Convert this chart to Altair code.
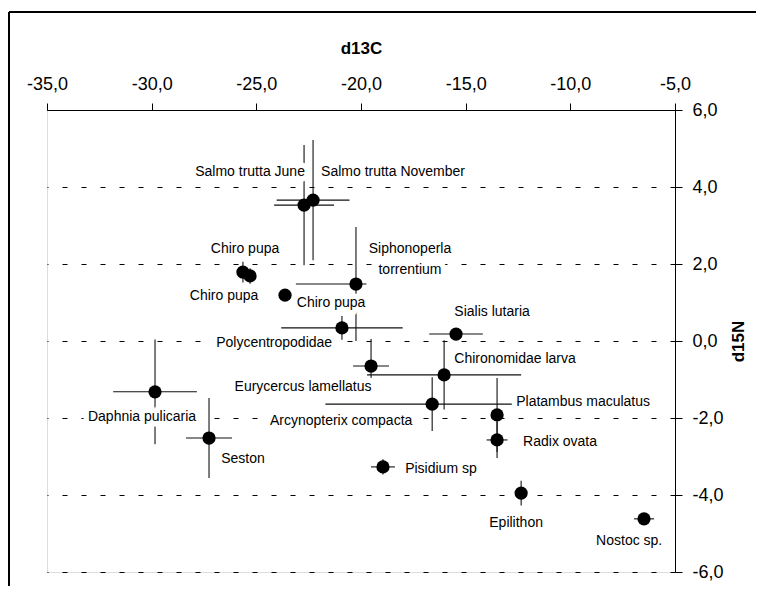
import altair as alt
import pandas as pd

# ---- data ----
names = ["Salmo trutta June", "Salmo trutta November", "Chiro pupa a", "Chiro pupa b",
         "Chiro pupa c", "Siphonoperla torrentium", "Polycentropodidae",
         "Eurycercus lamellatus", "Daphnia pulicaria", "Seston", "Sialis lutaria",
         "Chironomidae larva", "Arcynopterix compacta", "Platambus maculatus",
         "Radix ovata", "Pisidium sp", "Epilithon", "Nostoc sp."]
d13c = [-22.72, -22.29, -25.64, -25.30, -23.63, -20.24, -20.91, -19.52, -29.84,
        -27.26, -15.46, -16.03, -16.60, -13.50, -13.50, -18.95, -12.35, -6.48]
d15n = [3.53, 3.66, 1.79, 1.69, 1.19, 1.48, 0.34, -0.65, -1.32, -2.52, 0.18,
        -0.88, -1.64, -1.92, -2.57, -3.27, -3.95, -4.62]
# visible error-bar extents (left / right, down / up)
err_c_lo = [1.43, 1.74, 0.0, 0.0, 0.0, 2.87, 2.90, 0.86, 2.00, 1.10, 1.28, 3.68,
            5.10, 0.0, 0.50, 0.57, 0.15, 0.48]
err_c_hi = [1.43, 1.74, 0.0, 0.0, 0.0, 0.50, 2.90, 0.86, 2.00, 1.10, 1.28, 3.68,
            5.10, 0.0, 0.50, 0.57, 0.15, 0.48]
err_n = [1.56, 1.56, 0.27, 0.20, 0.0, 1.48, 0.31, 0.70, 1.36, 1.04, 0.10, 0.90,
         0.70, 0.96, 0.47, 0.20, 0.32, 0.10]

label_text = ["Salmo trutta June", "Salmo trutta November", "Chiro pupa", "Chiro pupa",
              "Chiro pupa", "Siphonoperla\ntorrentium", "Polycentropodidae",
              "Eurycercus lamellatus", "Daphnia pulicaria", "Seston", "Sialis lutaria",
              "Chironomidae larva", "Arcynopterix compacta", "Platambus maculatus",
              "Radix ovata", "Pisidium sp", "Epilithon", "Nostoc sp."]
label_c = [-25.30, -18.47, -25.54, -26.54, -21.43, -17.66, -24.15, -22.77, -30.46,
           -25.64, -13.74, -12.64, -20.95, -9.39, -10.49, -16.18, -12.59, -7.19]
label_n = [4.39, 4.39, 2.39, 1.17, 0.99, 2.39, -0.05, -1.19, -1.97, -3.06, 0.75,
           -0.47, -2.08, -1.58, -2.62, -3.32, -4.73, -5.19]

x_ticks = [-35, -30, -25, -20, -15, -10, -5]
y_ticks = [-6, -4, -2, 0, 2, 4, 6]

df = pd.DataFrame({"name": names, "c": d13c, "n": d15n,
                   "clo": err_c_lo, "chi": err_c_hi, "sn": err_n})
lab = pd.DataFrame({"text": label_text, "lc": label_c, "ln": label_n})

FONT = "Liberation Sans"
comma = "(datum.value < 0 ? '-' : '') + replace(format(abs(datum.value), '.1f'), '.', ',')"

xs = alt.Scale(domain=[-35, -5], nice=False, zero=False)
ys = alt.Scale(domain=[-6, 6], nice=False, zero=False)

x_axis = alt.Axis(orient="top", values=x_ticks, labelExpr=comma, title="d13C",
                  tickSize=7, labelPadding=10, labelFontSize=18, labelFont=FONT,
                  labelColor="black", domainColor="black", tickColor="black",
                  grid=False, titleFont=FONT, titleFontSize=17, titleFontWeight="bold",
                  titleColor="black", titleX=314, titleY=-62, titleBaseline="middle",
                  titleAlign="center", labelFlush=False)
y_axis = alt.Axis(orient="right", values=y_ticks, labelExpr=comma, title="d15N",
                  tickSize=7, labelPadding=10, labelFontSize=18, labelFont=FONT,
                  labelColor="black", domainColor="black", tickColor="black",
                  grid=True, gridDash=[5, 14], gridColor="black", gridWidth=1,
                  titleFont=FONT, titleFontSize=17, titleFontWeight="bold",
                  titleColor="black", titleAngle=270, titleX=63, titleY=231,
                  titleAlign="center", titleBaseline="middle", labelFlush=False)

base = alt.Chart(df)

axes = base.mark_point(opacity=0).encode(
    x=alt.X("c:Q", scale=xs, axis=x_axis),
    y=alt.Y("n:Q", scale=ys, axis=y_axis),
)

hbar = base.transform_filter("datum.clo + datum.chi > 0").transform_calculate(
    x1="datum.c - datum.clo", x2="datum.c + datum.chi"
).mark_rule(color="#111", strokeWidth=1.1).encode(
    x=alt.X("x1:Q", scale=xs), x2="x2:Q", y=alt.Y("n:Q", scale=ys)
)
vbar = base.transform_filter("datum.sn > 0").transform_calculate(
    y1="datum.n - datum.sn", y2="datum.n + datum.sn"
).mark_rule(color="#111", strokeWidth=1.1).encode(
    y=alt.Y("y1:Q", scale=ys), y2="y2:Q", x=alt.X("c:Q", scale=xs)
)

lab_base = alt.Chart(lab)
knock = lab_base.mark_text(font=FONT, fontSize=14, stroke="white", fill="white",
                           strokeWidth=11, strokeJoin="round", lineBreak="\n",
                           lineHeight=21, baseline="middle", align="center").encode(
    x=alt.X("lc:Q", scale=xs), y=alt.Y("ln:Q", scale=ys), text="text:N"
)
labels = lab_base.mark_text(font=FONT, fontSize=14, color="black", lineBreak="\n",
                            lineHeight=21, baseline="middle", align="center").encode(
    x=alt.X("lc:Q", scale=xs), y=alt.Y("ln:Q", scale=ys), text="text:N"
)

points = base.mark_circle(size=175, color="black", opacity=1).encode(
    x=alt.X("c:Q", scale=xs), y=alt.Y("n:Q", scale=ys)
)

frame_v = alt.Chart(df).mark_rule(color="black", strokeWidth=1.5).encode(
    x=alt.value(-38), y=alt.value(-98), y2=alt.value(500)
)
frame_h = alt.Chart(df).mark_rule(color="black", strokeWidth=1.5).encode(
    y=alt.value(-98), x=alt.value(-38), x2=alt.value(709)
)

chart = alt.layer(axes, hbar, vbar, knock, labels, points, frame_v, frame_h).properties(
    width=628, height=462,
    autosize=alt.AutoSizeParams(type="none"),
    padding={"left": 39, "top": 102, "right": 81, "bottom": 14},
).configure_view(stroke=None).configure(background="white")

chart.save("out.html", embed_options={"renderer": "svg", "actions": False})
